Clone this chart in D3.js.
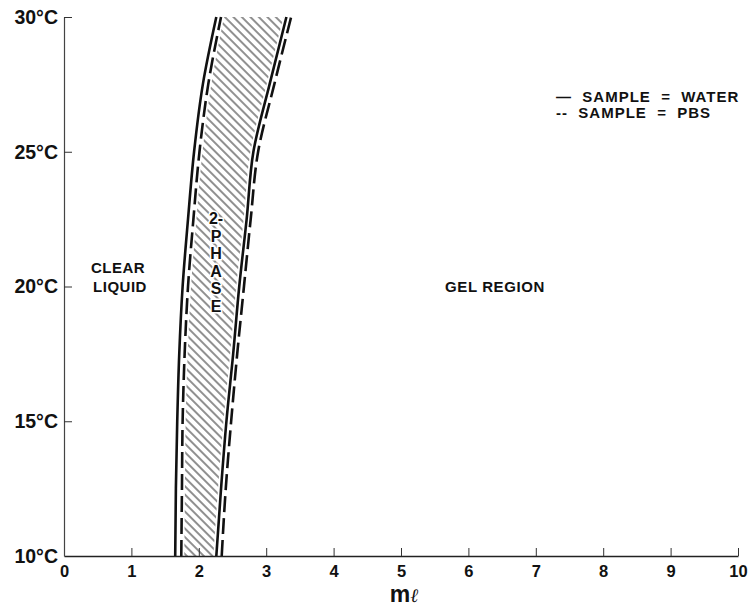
<!DOCTYPE html>
<html>
<head>
<meta charset="utf-8">
<script src="https://cdn.jsdelivr.net/npm/d3@7"></script>
<style>
    body { margin: 0; background: #fff; }
    text { font-family: "Liberation Sans", Arial, sans-serif; font-weight: bold; fill: #111; }
</style>
</head>
<body>
<div id="chart"></div>
<script>
// temperatures (deg C) and volume boundaries (ml)
const temps = [10, 12.5, 15, 17.5, 20, 22.5, 25, 27.5, 30];
const waterLow = [1.65, 1.66, 1.68, 1.71, 1.76, 1.84, 1.93, 2.06, 2.26];
const waterHigh = [2.26, 2.33, 2.41, 2.51, 2.60, 2.71, 2.81, 3.05, 3.30];
const pbsLow = [1.74, 1.75, 1.76, 1.79, 1.84, 1.92, 2.01, 2.14, 2.33];
const pbsHigh = [2.34, 2.40, 2.48, 2.57, 2.67, 2.77, 2.88, 3.12, 3.37];

const xTicks = [0, 1, 2, 3, 4, 5, 6, 7, 8, 9, 10];
const yTicks = [10, 15, 20, 25, 30];
const phaseLetters = ['2-', 'P', 'H', 'A', 'S', 'E'];
const legendItems = ['—  SAMPLE  =  WATER', '--  SAMPLE  =  PBS'];

const width = 753;
const height = 608;

const svg = d3
    .select('#chart')
    .append('svg')
    .attr('width', width)
    .attr('height', height);

const x = d3.scaleLinear().domain([0, 10]).range([64, 738]);
const y = d3.scaleLinear().domain([10, 30]).range([556, 17]);

// hatch pattern for the 2-phase band
const defs = svg.append('defs');
defs.append('pattern')
    .attr('id', 'hatch')
    .attr('patternUnits', 'userSpaceOnUse')
    .attr('width', 6)
    .attr('height', 6)
    .attr('patternTransform', 'rotate(-45)')
    .append('line')
    .attr('x1', 3)
    .attr('y1', 0)
    .attr('x2', 3)
    .attr('y2', 6)
    .attr('stroke', '#222')
    .attr('stroke-width', 1);

const rows = temps.map((t, i) => ({
    t: t,
    wLow: waterLow[i],
    wHigh: waterHigh[i],
    pLow: pbsLow[i],
    pHigh: pbsHigh[i]
}));

const band = d3.area()
    .curve(d3.curveMonotoneY)
    .y(d => y(d.t))
    .x0(d => x(d.pLow) + 3)
    .x1(d => x(d.wHigh) - 3);

svg.append('path')
    .datum(rows)
    .attr('d', band)
    .attr('fill', 'url(#hatch)');

function boundary(key) {
    return d3.line()
        .curve(d3.curveMonotoneY)
        .x(d => x(d[key]))
        .y(d => y(d.t));
}

['wLow', 'wHigh'].forEach(function (key) {
    svg.append('path')
        .datum(rows)
        .attr('d', boundary(key))
        .attr('fill', 'none')
        .attr('stroke', '#111')
        .attr('stroke-width', 2.6);
});

['pLow', 'pHigh'].forEach(function (key) {
    svg.append('path')
        .datum(rows)
        .attr('d', boundary(key))
        .attr('fill', 'none')
        .attr('stroke', '#111')
        .attr('stroke-width', 2.6)
        .attr('stroke-dasharray', '16,6');
});

// axes
const xAxis = d3.axisBottom(x)
    .tickValues(xTicks)
    .tickSizeInner(-8)
    .tickSizeOuter(0)
    .tickPadding(9)
    .tickFormat(d3.format('d'));

const gx = svg.append('g')
    .attr('transform', 'translate(0,' + y(10) + ')')
    .call(xAxis);
gx.select('.domain').attr('stroke', '#222').attr('stroke-width', 1.5);
gx.selectAll('.tick line').attr('stroke', '#333');
gx.selectAll('.tick').filter(d => d === 0).select('line').remove();
gx.selectAll('.tick text')
    .style('font-size', '16.5px')
    .style('font-family', '"Liberation Sans", Arial, sans-serif')
    .style('font-weight', 'bold')
    .attr('fill', '#111');

const yAxis = d3.axisLeft(y)
    .tickValues(yTicks)
    .tickSizeInner(-8)
    .tickSizeOuter(0)
    .tickPadding(6)
    .tickFormat(d => d + '°C');

const gy = svg.append('g')
    .attr('transform', 'translate(' + x(0) + ',0)')
    .call(yAxis);
gy.select('.domain').attr('stroke', '#444').attr('stroke-width', 1.2);
gy.selectAll('.tick line').attr('stroke', '#333');
gy.selectAll('.tick').filter(d => d === 10).select('line').remove();
gy.selectAll('.tick text')
    .style('font-size', '19.5px')
    .style('font-family', '"Liberation Sans", Arial, sans-serif')
    .style('font-weight', 'bold')
    .attr('fill', '#111');

// axis title
const title = svg.append('text')
    .attr('x', x(5) + 3)
    .attr('y', 602)
    .attr('text-anchor', 'middle');
title.append('tspan').style('font-size', '23px').text('m');
title.append('tspan')
    .style('font-size', '19px')
    .style('font-weight', 'normal')
    .style('font-style', 'italic')
    .style('font-family', '"DejaVu Serif", serif')
    .text('ℓ');

// region labels
svg.append('text')
    .attr('x', 118)
    .attr('y', 273)
    .attr('text-anchor', 'middle')
    .style('font-size', '15px')
    .style('letter-spacing', '0.5px')
    .text('CLEAR');
svg.append('text')
    .attr('x', 120)
    .attr('y', 292)
    .attr('text-anchor', 'middle')
    .style('font-size', '15px')
    .style('letter-spacing', '0.5px')
    .text('LIQUID');

svg.append('text')
    .attr('x', 495)
    .attr('y', 292)
    .attr('text-anchor', 'middle')
    .style('font-size', '15px')
    .style('letter-spacing', '0.6px')
    .text('GEL REGION');

svg.selectAll('.phase')
    .data(phaseLetters)
    .enter()
    .append('text')
    .attr('class', 'phase')
    .attr('x', 216)
    .attr('y', (d, i) => 224 + i * 17.5)
    .attr('text-anchor', 'middle')
    .style('font-size', '16px')
    .style('paint-order', 'stroke')
    .attr('stroke', '#fff')
    .attr('stroke-width', 3)
    .text(d => d);

// legend
svg.selectAll('.legend')
    .data(legendItems)
    .enter()
    .append('text')
    .attr('class', 'legend')
    .attr('x', 556)
    .attr('y', (d, i) => 102 + i * 16)
    .style('font-size', '15px')
    .style('white-space', 'pre')
    .style('letter-spacing', '1px')
    .text(d => d);
</script>
</body>
</html>
